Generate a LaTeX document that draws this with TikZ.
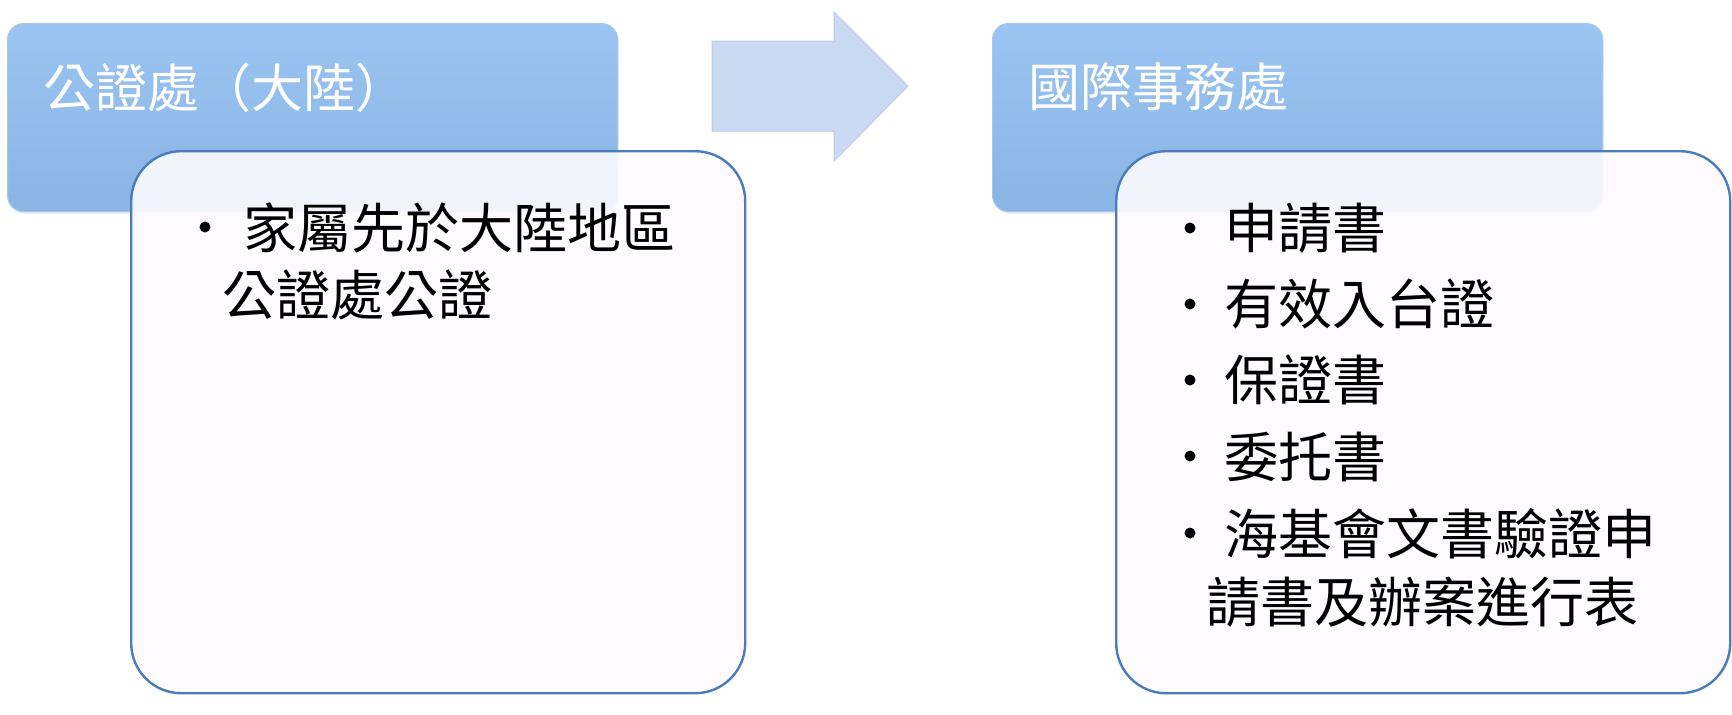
\documentclass[tikz,border=0pt]{standalone}
\usepackage{fontspec}
\newfontfamily\cjk{Noto Sans CJK TC}
\usetikzlibrary{shadows}
\definecolor{hdrtop}{HTML}{9AC4F1}
\definecolor{hdrmid}{HTML}{8DB8E8}
\definecolor{hdrbot}{HTML}{8AB4E4}
\definecolor{hdredge}{HTML}{A3C8EF}
\definecolor{bodyfill}{HTML}{FDFBFE}
\definecolor{bodyedge}{HTML}{4A7EBB}
\definecolor{arrfill}{HTML}{CBDAF3}
\definecolor{arredge}{HTML}{B9CCEB}
\tikzset{
  hdrbox/.style={draw=hdredge, line width=0.6pt, rounded corners=8pt,
    top color=hdrtop, middle color=hdrmid, bottom color=hdrbot,
    minimum width=305pt, minimum height=94pt, inner sep=0pt, anchor=north west,
    drop shadow={opacity=0.18, shadow xshift=0.6pt, shadow yshift=-1pt}},
  bodybox/.style={draw=bodyedge, line width=1.2pt, rounded corners=25pt,
    fill=bodyfill, fill opacity=0.9, text opacity=1,
    minimum width=307pt, minimum height=271pt, inner sep=0pt, anchor=north west},
  hdrtxt/.style={font=\cjk\fontsize{26pt}{30pt}\selectfont, text=white, inner sep=0pt, anchor=base west},
  bodytxt/.style={font=\cjk\fontsize{27pt}{32pt}\selectfont, text=black, inner sep=0pt, anchor=base west},
  bul/.style={circle, fill=black, inner sep=0pt, minimum size=5.5pt},
  arrowshape/.style={fill=arrfill, draw=arredge, line width=0.5pt, line join=miter}
}
\begin{document}
\begin{tikzpicture}[x=0.5pt,y=-0.5pt]
\useasboundingbox[fill=white] (0,0) rectangle (1732,714);
% left group
\node[hdrbox] (hl) at (7,23) {};
\node[bodybox] (bl) at (130,150) {};
% arrow
\draw[arrowshape] (712,41) -- (834,41) -- (834,12) -- (908,86) -- (834,161) -- (834,131) -- (712,131) -- cycle;
% right group
\node[hdrbox] (hr) at (992,23) {};
\node[bodybox] (br) at (1115,150) {};
% header texts
\node[hdrtxt] (thl) at (43,107) {公證處（大陸）};
\node[hdrtxt] (thr) at (1028,106) {國際事務處};
% left body
\node[bul] (lb1) at (205,227) {};
\node[bodytxt] (l1) at (243,248) {家屬先於大陸地區};
\node[bodytxt] (l2) at (222,315) {公證處公證};
% right body
\node[bul] (rb1) at (1190,228) {};
\node[bul] (rb2) at (1190,304) {};
\node[bul] (rb3) at (1190,380) {};
\node[bul] (rb4) at (1190,456) {};
\node[bul] (rb5) at (1190,533) {};
\node[bodytxt] (r1) at (1224,248) {申請書};
\node[bodytxt] (r2) at (1224,324) {有效入台證};
\node[bodytxt] (r3) at (1224,400) {保證書};
\node[bodytxt] (r4) at (1224,477) {委托書};
\node[bodytxt] (r5) at (1224,554) {海基會文書驗證申};
\node[bodytxt] (r6) at (1206,622) {請書及辦案進行表};
\end{tikzpicture}
\end{document}
